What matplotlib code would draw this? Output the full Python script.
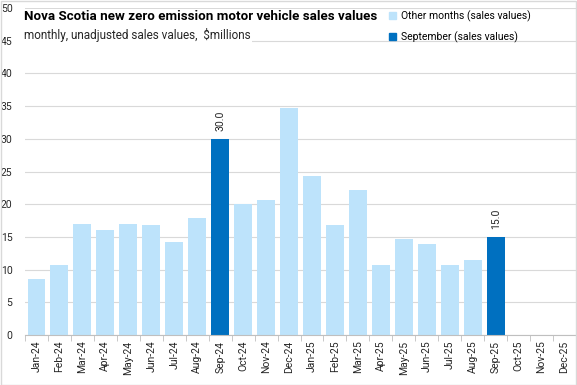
import matplotlib.pyplot as plt
import numpy as np
from matplotlib.patches import Rectangle, Patch

plt.rcParams['font.family'] = ['Roboto', 'DejaVu Sans']

MONTHS = ['Jan-24', 'Feb-24', 'Mar-24', 'Apr-24', 'May-24', 'Jun-24', 'Jul-24', 'Aug-24',
          'Sep-24', 'Oct-24', 'Nov-24', 'Dec-24', 'Jan-25', 'Feb-25', 'Mar-25', 'Apr-25',
          'May-25', 'Jun-25', 'Jul-25', 'Aug-25', 'Sep-25', 'Oct-25', 'Nov-25', 'Dec-25']
SALES = [8.5, 10.7, 17.0, 16.0, 17.0, 16.8, 14.2, 17.9, 30.0, 20.0, 20.6, 34.7,
         24.3, 16.8, 22.2, 10.7, 14.7, 13.9, 10.7, 11.4, 15.0, np.nan, np.nan, np.nan]

LIGHT = '#BDE3FB'
DARK = '#0070C0'

fig = plt.figure(figsize=(5.77, 3.85), dpi=100)
ax = fig.add_axes([25 / 577, 50 / 385, 551 / 577, 327 / 385])

x = np.arange(len(MONTHS))
colors = [DARK if m.startswith('Sep') else LIGHT for m in MONTHS]
ax.bar(x, SALES, width=0.78, color=colors, zorder=2)

# labels only on the September bars
for xi, m, v in zip(x, MONTHS, SALES):
    if m.startswith('Sep') and not np.isnan(v):
        ax.text(xi, v + 1.2, f'{v:.1f}', rotation=90, ha='center', va='bottom',
                fontsize=7.5, color='#262626')

ax.set_xlim(-0.5, len(MONTHS) - 0.5)
ax.set_ylim(0, 50)
ax.set_yticks(range(0, 51, 5))
ax.yaxis.grid(True, color='#D9D9D9', lw=0.8, zorder=0)
ax.set_axisbelow(True)
for s in ['top', 'right', 'left']:
    ax.spines[s].set_visible(False)
ax.spines['bottom'].set_color('#BFBFBF')

ax.set_xticks(x)
ax.set_xticklabels(MONTHS, rotation=90, fontsize=7.5, color='#262626')
ax.set_xticks(np.arange(-0.5, len(MONTHS)), minor=True)
ax.tick_params(axis='x', which='major', length=0, pad=4)
ax.tick_params(axis='x', which='minor', length=4, color='#BFBFBF')
ax.tick_params(axis='y', length=0, labelsize=7.5, labelcolor='#262626', pad=9)

# white box behind the titles so gridlines do not run through them
fig.text(24 / 577, 1 - 17 / 385, 'Nova Scotia new zero emission motor vehicle sales values',
         fontsize=9.6, fontweight='bold', va='center', color='#000000',
         bbox=dict(facecolor='white', edgecolor='none', pad=1))
fig.text(24 / 577, 1 - 35 / 385, 'monthly, unadjusted sales values,  $millions',
         fontsize=8.5, va='center', color='#262626',
         bbox=dict(facecolor='white', edgecolor='none', pad=1))

handles = [Patch(color=LIGHT, label='Other months (sales values)'),
           Patch(color=DARK, label='September (sales values)')]
fig.legend(handles=handles, loc='upper left', bbox_to_anchor=(385 / 577, 1 - 6 / 385),
           frameon=False, fontsize=7.5, handlelength=0.7, handleheight=0.7,
           handletextpad=0.4, labelspacing=0.9, borderaxespad=0)

fig.add_artist(Rectangle((0.001, 0.001), 0.998, 0.997, transform=fig.transFigure,
                         fill=False, edgecolor='#D9D9D9', lw=1))

fig.savefig('out.png', dpi=100)
